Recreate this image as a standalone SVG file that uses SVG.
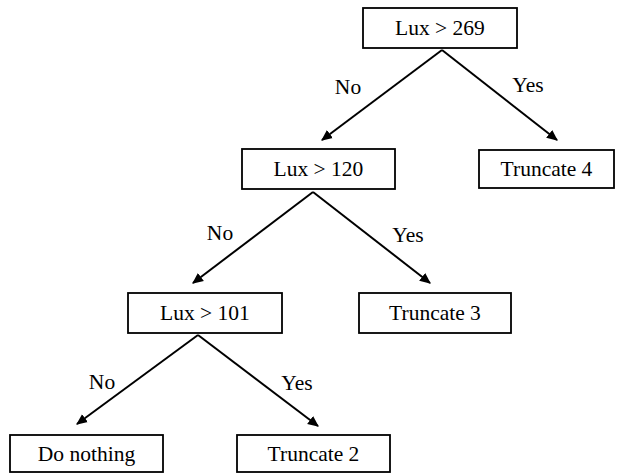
<svg xmlns="http://www.w3.org/2000/svg" width="628" height="474" viewBox="0 0 628 474">
<style>
.box{fill:#fff;stroke:#000;stroke-width:1.8}
text{font-family:"Liberation Serif","Times New Roman",serif;font-size:21.5px;fill:#000;text-anchor:middle}
.edge{stroke:#000;stroke-width:2;fill:none;marker-end:url(#ah)}
</style>
<defs>
<marker id="ah" markerWidth="11" markerHeight="11" viewBox="0 0 10 10" refX="9" refY="5" orient="auto" markerUnits="userSpaceOnUse">
<path d="M0,0.5 L10,5 L0,9.5 z" fill="#000"/>
</marker>
</defs>
<rect width="628" height="474" fill="#fff"/>
<g id="connectors">
<line class="edge" x1="442" y1="50" x2="322" y2="140"/>
<line class="edge" x1="442" y1="50" x2="557" y2="140"/>
<line class="edge" x1="313" y1="192" x2="193" y2="283"/>
<line class="edge" x1="313" y1="192" x2="430" y2="283"/>
<line class="edge" x1="198" y1="335" x2="77" y2="424"/>
<line class="edge" x1="198" y1="335" x2="318" y2="426"/>
<text x="348" y="94" font-family="Liberation Serif, serif">No</text>
<text x="528" y="92" font-family="Liberation Serif, serif">Yes</text>
<text x="220" y="240" font-family="Liberation Serif, serif">No</text>
<text x="408" y="242" font-family="Liberation Serif, serif">Yes</text>
<text x="102" y="389" font-family="Liberation Serif, serif">No</text>
<text x="297" y="390" font-family="Liberation Serif, serif">Yes</text>
</g>
<g id="n269"><rect class="box" x="363" y="8" width="154" height="40"/><text x="440" y="35">Lux &gt; 269</text></g>
<g id="t4"><rect class="box" x="479" y="150" width="135" height="38"/><text x="546.5" y="176">Truncate 4</text></g>
<g id="n120"><rect class="box" x="242" y="149" width="153" height="40"/><text x="318.5" y="176">Lux &gt; 120</text></g>
<g id="t3"><rect class="box" x="359" y="293" width="152" height="40"/><text x="435" y="320">Truncate 3</text></g>
<g id="n101"><rect class="box" x="128" y="293" width="154" height="40"/><text x="205" y="320">Lux &gt; 101</text></g>
<g id="dn"><rect class="box" x="10" y="435" width="153" height="37"/><text x="86.5" y="461">Do nothing</text></g>
<g id="t2"><rect class="box" x="237" y="435" width="153" height="37"/><text x="313.5" y="461">Truncate 2</text></g>
</svg>
